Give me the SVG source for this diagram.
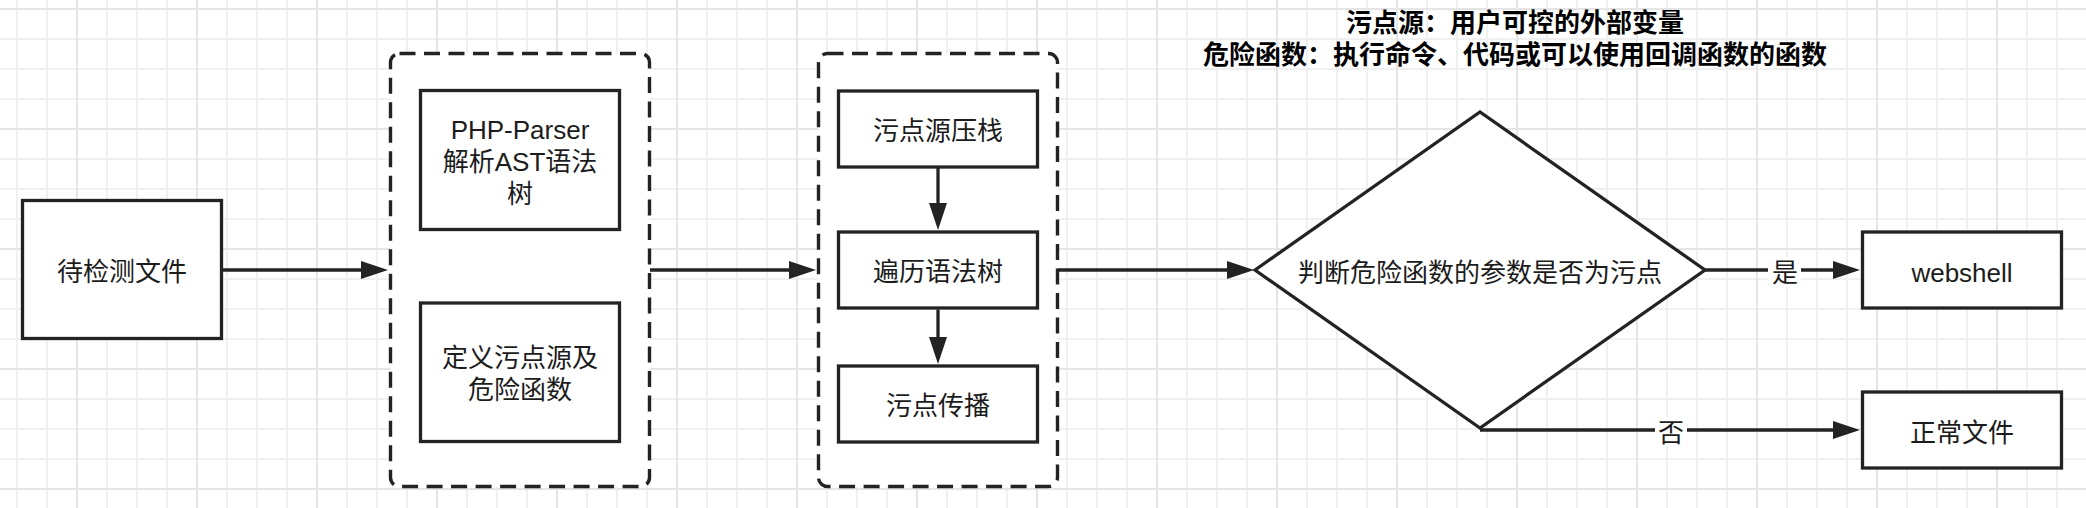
<svg xmlns="http://www.w3.org/2000/svg" width="2086" height="508" viewBox="0 0 2086 508">
<style>
.box{fill:#ffffff;stroke:#232323;stroke-width:3.3}
.cont{fill:#ffffff;stroke:#232323;stroke-width:3.4;stroke-dasharray:16 8.5}
.edge{fill:none;stroke:#232323;stroke-width:3.3}
.t{font-family:"Liberation Sans","Noto Sans CJK SC",sans-serif;font-size:26px;fill:#1c1c1c;text-anchor:middle}
.b{font-weight:bold;fill:#000000}
.lblbg{fill:#ffffff}
</style>
<defs>
<pattern id="grid" patternUnits="userSpaceOnUse" x="2" y="54" width="120" height="120">
<rect x="0" y="0" width="120" height="120" fill="#ffffff"/>
<g fill="#f0f0f0">
<rect x="14" y="0" width="2" height="120"/>
<rect x="44" y="0" width="2" height="120"/>
<rect x="104" y="0" width="2" height="120"/>
<rect x="0" y="14" width="120" height="2"/>
<rect x="0" y="44" width="120" height="2"/>
<rect x="0" y="104" width="120" height="2"/>
</g>
<g fill="#e5e5e5">
<rect x="74" y="0" width="2" height="120"/>
<rect x="0" y="74" width="120" height="2"/>
</g>
</pattern>
<marker id="arr" markerUnits="userSpaceOnUse" markerWidth="27" markerHeight="18" viewBox="0 0 27 18" refX="0" refY="9" orient="auto">
<path d="M0,0 L27,9 L0,18 Z" fill="#232323"/>
</marker>
</defs>
<rect x="0" y="0" width="2086" height="508" fill="url(#grid)"/>

<g id="note">
<text class="t b" x="1515" y="31.5">污点源：用户可控的外部变量</text>
<text class="t b" x="1515" y="63.5">危险函数：执行命令、代码或可以使用回调函数的函数</text>
</g>

<g id="node-file">
<rect class="box" x="22.5" y="200.5" width="199" height="138"/>
<text class="t" x="122" y="281">待检测文件</text>
</g>

<g id="group-1">
<rect class="cont" x="390.5" y="53.5" width="259" height="433" rx="9" ry="9"/>
</g>
<g id="node-parser">
<rect class="box" x="420.5" y="90.5" width="199" height="139"/>
<text class="t" x="520" y="139">PHP-Parser</text>
<text class="t" x="520" y="171">解析AST语法</text>
<text class="t" x="520" y="202.5">树</text>
</g>
<g id="node-define">
<rect class="box" x="420.5" y="303" width="199" height="138.5"/>
<text class="t" x="520" y="367">定义污点源及</text>
<text class="t" x="520" y="398.5">危险函数</text>
</g>

<g id="group-2">
<rect class="cont" x="818.5" y="53.5" width="239" height="433" rx="9" ry="9"/>
</g>
<g id="node-push">
<rect class="box" x="838.5" y="91" width="199" height="76"/>
<text class="t" x="938" y="139.5">污点源压栈</text>
</g>
<g id="node-traverse">
<rect class="box" x="838.5" y="232" width="199" height="76"/>
<text class="t" x="938" y="280.5">遍历语法树</text>
</g>
<g id="node-propagate">
<rect class="box" x="838.5" y="366" width="199" height="76"/>
<text class="t" x="938" y="414.5">污点传播</text>
</g>

<g id="node-decision">
<polygon class="box" points="1255,270 1480,112 1705,270 1480,428"/>
<text class="t" x="1480" y="282">判断危险函数的参数是否为污点</text>
</g>

<g id="node-webshell">
<rect class="box" x="1862.5" y="232" width="199" height="76"/>
<text class="t" x="1962" y="281.5">webshell</text>
</g>
<g id="node-normal">
<rect class="box" x="1862.5" y="392" width="199" height="76"/>
<text class="t" x="1962" y="441.5">正常文件</text>
</g>

<g id="connectors">
<path class="edge" d="M222,270 H361" marker-end="url(#arr)"/>
<path class="edge" d="M650,270 H789" marker-end="url(#arr)"/>
<path class="edge" d="M938,168 V203" marker-end="url(#arr)"/>
<path class="edge" d="M938,309.5 V337" marker-end="url(#arr)"/>
<path class="edge" d="M1058,270 H1227" marker-end="url(#arr)"/>
<path class="edge" d="M1705,270 H1833" marker-end="url(#arr)"/>
<path class="edge" d="M1480,430 H1833" marker-end="url(#arr)"/>
<rect class="lblbg" x="1768" y="257" width="33" height="30"/>
<text class="t" x="1785" y="282">是</text>
<rect class="lblbg" x="1655" y="417" width="32" height="30"/>
<text class="t" x="1671" y="442">否</text>
</g>
</svg>
